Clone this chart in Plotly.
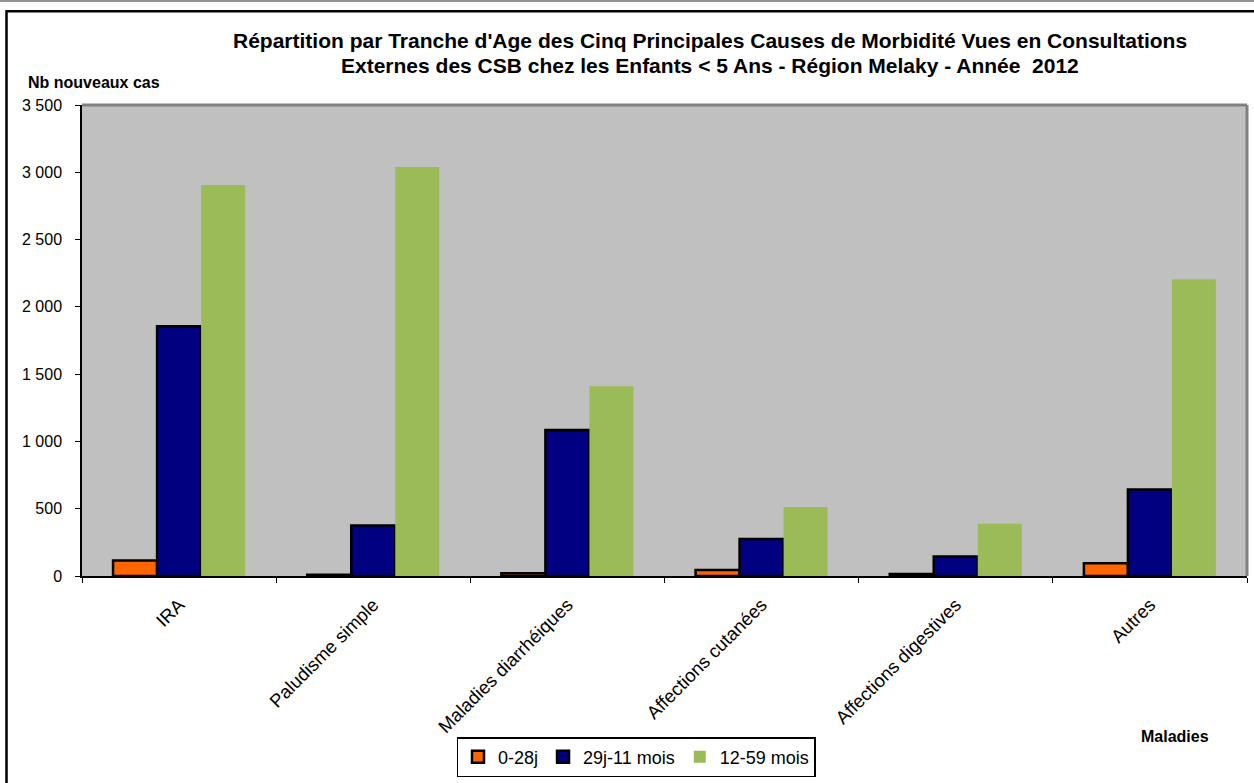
import plotly.graph_objects as go

categories = ["IRA", "Paludisme simple", "Maladies diarrhéiques", "Affections cutanées",
              "Affections digestives", "Autres"]
s_0_28j = [115, 10, 20, 45, 15, 95]
s_29j_11m = [1855, 375, 1085, 275, 145, 643]
s_12_59m = [2905, 3040, 1410, 512, 388, 2205]
series_names = ["0-28j", "29j-11 mois", "12-59 mois"]
y_ticks = [0, 500, 1000, 1500, 2000, 2500, 3000, 3500]

W, H = 1254, 783
L, R, T, B = 82, 1247, 105, 577

def px(x):
    return (x - L) / (R - L)

def py(y):
    return (B - y) / (B - T)

FONT = "Liberation Sans, Arial, sans-serif"

fig = go.Figure()
fig.add_trace(go.Bar(name=series_names[0], x=categories, y=s_0_28j,
                     marker=dict(color="#FF6600", line=dict(color="black", width=2.5))))
fig.add_trace(go.Bar(name=series_names[1], x=categories, y=s_29j_11m,
                     marker=dict(color="#000080", line=dict(color="black", width=2.5))))
fig.add_trace(go.Bar(name=series_names[2], x=categories, y=s_12_59m,
                     marker=dict(color="#9BBB59", line=dict(width=0))))

shapes = [
    dict(type="line", xref="paper", yref="paper", x0=0, x1=1, y0=1, y1=1,
         line=dict(color="#808080", width=3)),
    dict(type="line", xref="paper", yref="paper", x0=1, x1=1, y0=0, y1=1,
         line=dict(color="#808080", width=3)),
    dict(type="rect", xref="paper", yref="paper", x0=px(6.5), x1=px(1262), y0=py(11), y1=py(795),
         line=dict(color="black", width=2.5), layer="below"),
    dict(type="line", xref="paper", yref="paper", x0=px(0), x1=px(1254), y0=py(0.8), y1=py(0.8),
         line=dict(color="#707070", width=1.5)),
]

annotations = [
    dict(text="<b>Répartition par Tranche d'Age des Cinq Principales Causes de Morbidité Vues en Consultations</b>",
         xref="paper", yref="paper", x=px(710), y=py(40), xanchor="center", yanchor="middle",
         showarrow=False, font=dict(family=FONT, size=21, color="black")),
    dict(text="<b>Externes des CSB chez les Enfants &lt; 5 Ans - Région Melaky - Année  2012</b>",
         xref="paper", yref="paper", x=px(710), y=py(65), xanchor="center", yanchor="middle",
         showarrow=False, font=dict(family=FONT, size=21, color="black")),
    dict(text="<b>Nb nouveaux cas</b>", xref="paper", yref="paper", x=px(94), y=py(82),
         xanchor="center", yanchor="middle", showarrow=False,
         font=dict(family=FONT, size=16, color="black")),
    dict(text="<b>Maladies</b>", xref="paper", yref="paper", x=px(1175), y=py(738),
         xanchor="center", yanchor="middle", showarrow=False,
         font=dict(family=FONT, size=16, color="black")),
]

fig.update_layout(
    width=W, height=H,
    margin=dict(l=L, r=W - R, t=T, b=H - B, pad=0),
    paper_bgcolor="white",
    plot_bgcolor="#C0C0C0",
    barmode="group",
    bargap=0.32,
    bargroupgap=0,
    separators=", ",
    font=dict(family=FONT, size=16, color="black"),
    shapes=shapes,
    annotations=annotations,
    legend=dict(orientation="h", x=px(636), y=py(737), xanchor="center", yanchor="top",
                bordercolor="black", borderwidth=1.5, bgcolor="white",
                font=dict(family=FONT, size=18, color="black"),
                itemwidth=30, tracegroupgap=0),
    showlegend=True,
)

fig.update_xaxes(
    showline=True, linecolor="black", linewidth=1.5,
    ticks="outside", tickson="boundaries", ticklen=5, tickcolor="black",
    tickangle=-45, tickfont=dict(family=FONT, size=18.5, color="black"),
    ticklabelstandoff=9,
    showgrid=False, zeroline=False,
)
fig.update_yaxes(
    range=[0, 3500], tickvals=y_ticks, tickformat=",d",
    showline=True, linecolor="black", linewidth=1.5,
    ticks="outside", ticklen=5, tickcolor="black",
    tickfont=dict(family=FONT, size=16, color="black"),
    ticklabelstandoff=10,
    showgrid=False, zeroline=False,
)

fig.write_html("out.html", config={"displayModeBar": False},
               post_script="document.body.style.margin='0';document.body.style.overflow='hidden';")
